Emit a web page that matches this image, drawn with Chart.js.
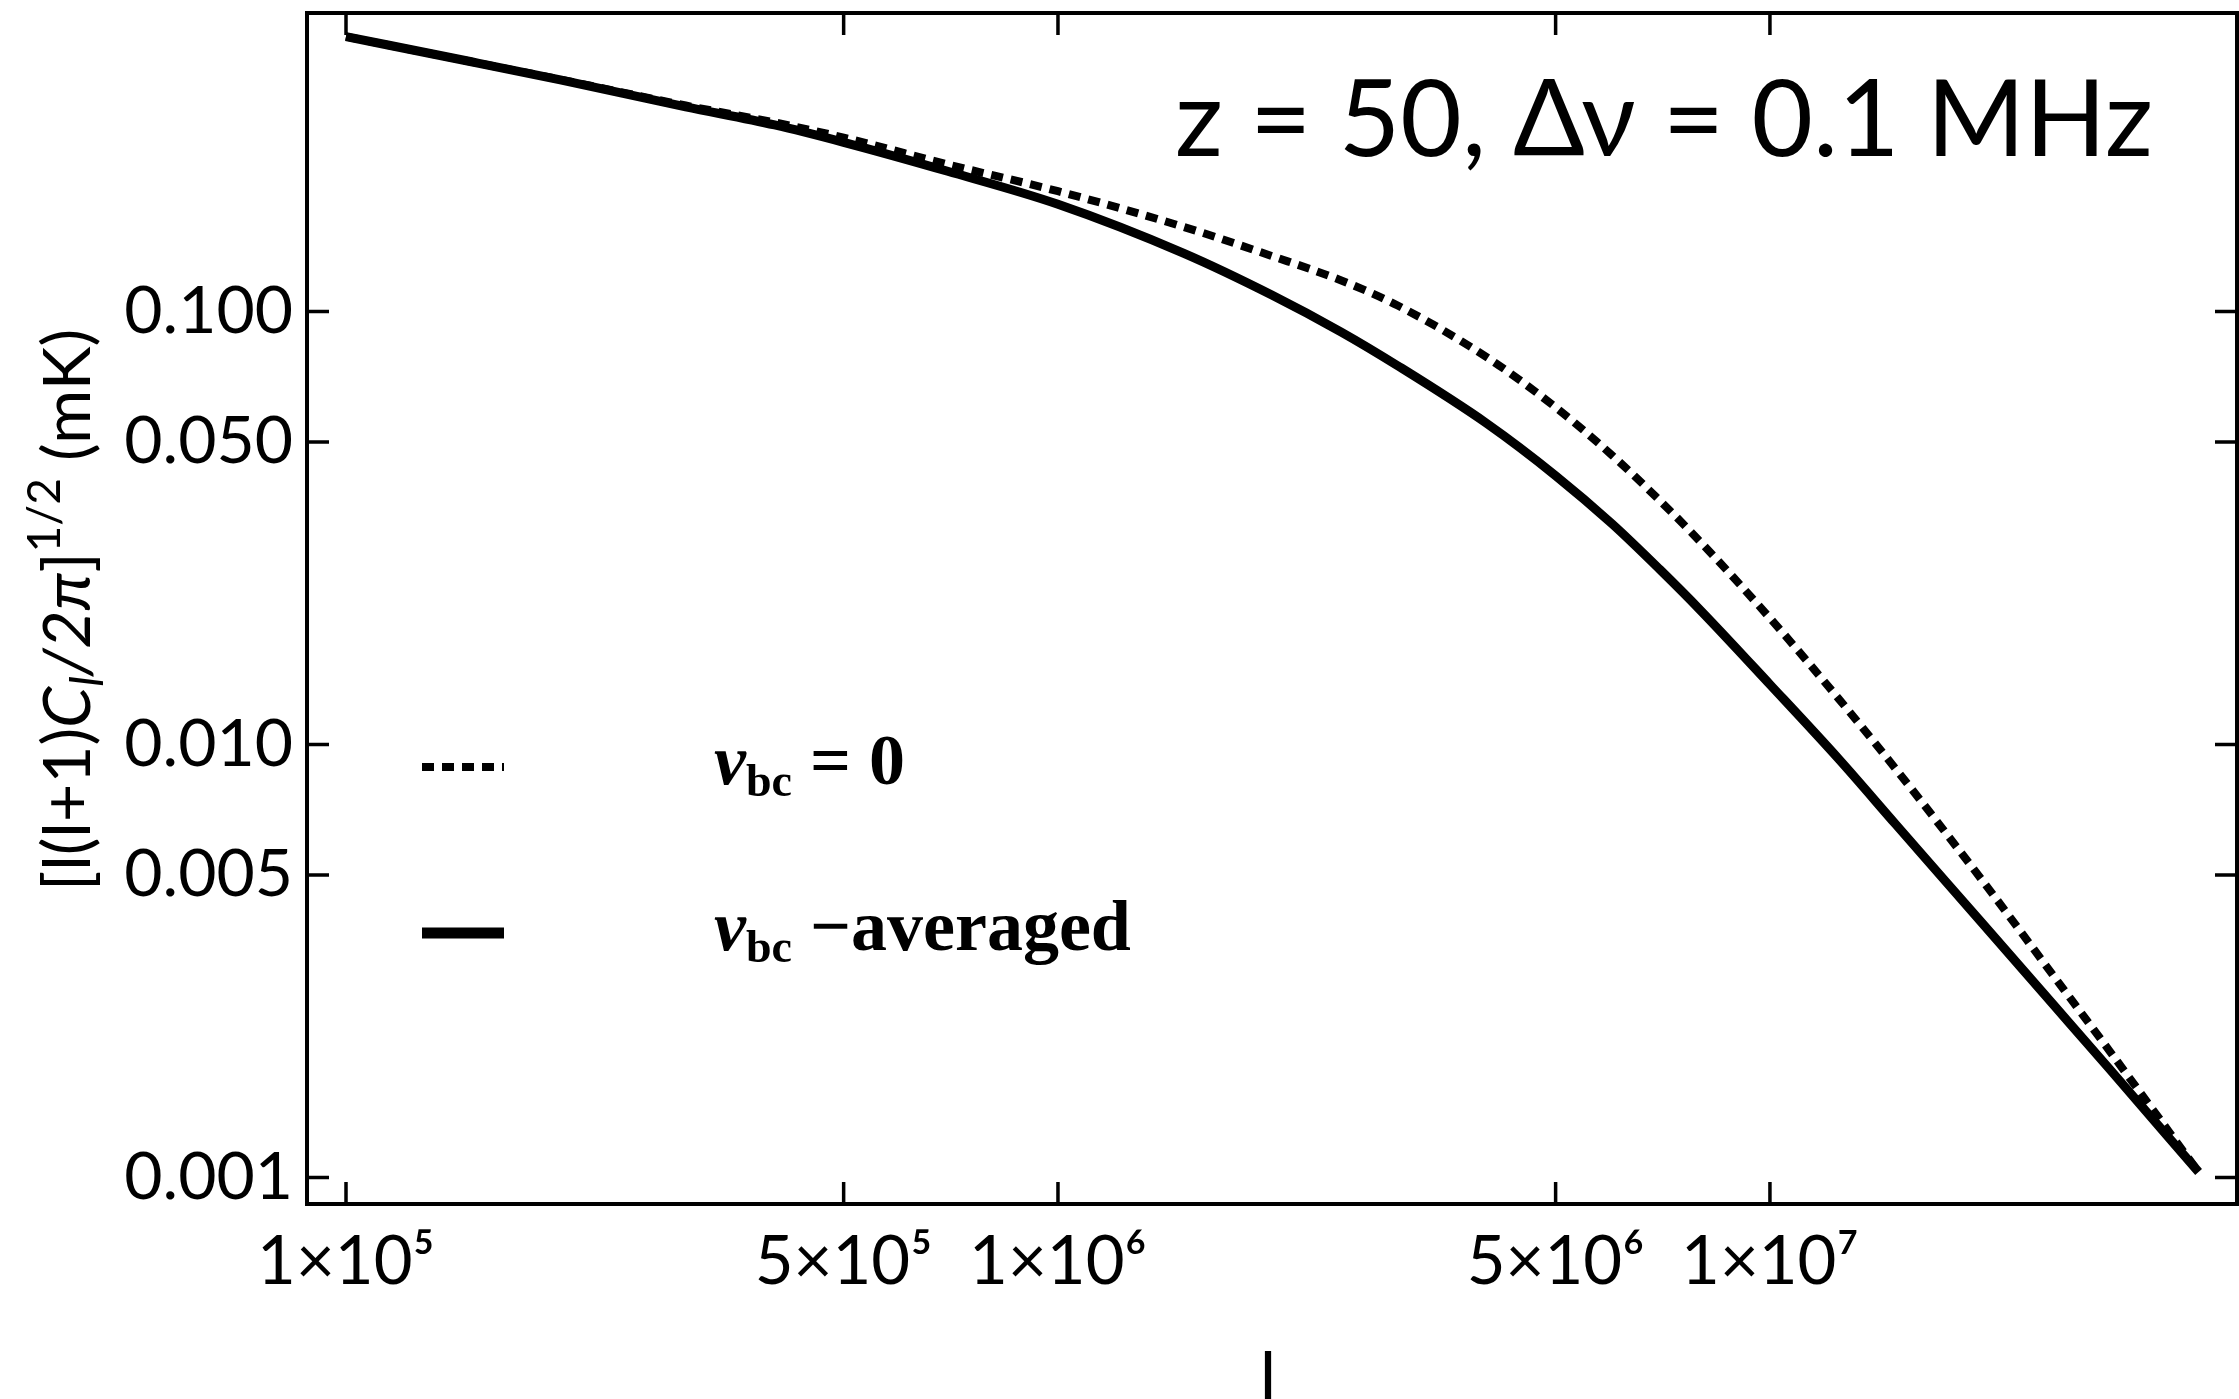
<!DOCTYPE html>
<html lang="en">
<head>
<meta charset="UTF-8">
<title>21-cm angular power spectrum, z = 50</title>
<script src="https://cdn.jsdelivr.net/npm/chart.js@4.4.0/dist/chart.umd.min.js"></script>
<style>
  html, body { margin: 0; padding: 0; background: #fff; }
  #wrap { width: 2239px; height: 1399px; }
</style>
</head>
<body>
<div id="wrap"><canvas id="chart" width="2239" height="1399"></canvas></div>
<script>
// multipole l
const ells = [1e5, 1.5e5, 2e5, 3e5, 4e5, 5e5, 7e5, 1e6, 1.5e6, 2e6, 2.5e6, 3e6, 4e6, 5e6,
              6e6, 7e6, 8e6, 1e7, 1.25e7, 1.5e7, 2e7, 2.5e7, 3e7, 4e7];
// [l(l+1)C_l/2pi]^(1/2) in mK
const vbcZero = [0.4315, 0.3776, 0.3436, 0.2992, 0.2735, 0.2523, 0.2188, 0.1897, 0.1570, 0.1343,
                 0.1180, 0.1033, 0.0785, 0.0601, 0.0466, 0.03664, 0.02931, 0.01959, 0.01274, 0.00881,
                 0.00479, 0.00293, 0.00196, 0.00103];
const vbcAveraged = [0.4315, 0.3776, 0.3428, 0.2972, 0.2698, 0.2460, 0.2109, 0.1770, 0.1365, 0.1091,
                     0.0897, 0.0750, 0.0552, 0.0418, 0.03236, 0.0254, 0.02037, 0.01377, 0.00925, 0.00656,
                     0.00382, 0.00251, 0.00178, 0.00103];

const xMajorTicks = [1e5, 5e5, 1e6, 5e6, 1e7];
const xTickLabels = ['1×10⁵', '5×10⁵', '1×10⁶', '5×10⁶', '1×10⁷'];
const xMinorTicks = [2e5, 3e5, 4e5, 6e5, 7e5, 8e5, 9e5, 2e6, 3e6, 4e6, 6e6, 7e6, 8e6, 9e6, 2e7, 3e7, 4e7];
const yMajorTicks = [0.001, 0.005, 0.01, 0.05, 0.1];
const yTickLabels = ['0.001', '0.005', '0.010', '0.050', '0.100'];
const yMinorTicks = [0.002, 0.003, 0.004, 0.006, 0.007, 0.008, 0.009, 0.02, 0.03, 0.04,
                     0.06, 0.07, 0.08, 0.09, 0.2, 0.3, 0.4];

const seriesNames = ['vbc = 0', 'vbc -averaged'];
const annotation = 'z = 50, Δν = 0.1 MHz';

const sans = 'Lato, "Noto Sans", sans-serif';
const serif = '"Liberation Serif", "DejaVu Serif", serif';

function tickList(major, minor) {
  return major.map(v => ({ value: v, major: true }))
    .concat(minor.map(v => ({ value: v, major: false })))
    .sort((a, b) => a.value - b.value);
}

// inward ticks on all four sides + the frame
const framePlugin = {
  id: 'frame',
  afterDatasetsDraw(chart) {
    const { ctx, chartArea: a, scales: { x, y } } = chart;
    ctx.save();
    ctx.strokeStyle = '#000';
    x.ticks.forEach(t => {
      const p = x.getPixelForValue(t.value);
      const len = t.major ? 22 : 7;
      ctx.lineWidth = t.major ? 3.5 : 2;
      ctx.beginPath();
      ctx.moveTo(p, a.bottom); ctx.lineTo(p, a.bottom - len);
      ctx.moveTo(p, a.top); ctx.lineTo(p, a.top + len);
      ctx.stroke();
    });
    y.ticks.forEach(t => {
      const p = y.getPixelForValue(t.value);
      const len = t.major ? 22 : 7;
      ctx.lineWidth = t.major ? 3.5 : 2;
      ctx.beginPath();
      ctx.moveTo(a.left, p); ctx.lineTo(a.left + len, p);
      ctx.moveTo(a.right, p); ctx.lineTo(a.right - len, p);
      ctx.stroke();
    });
    ctx.lineWidth = 4;
    ctx.strokeRect(a.left, a.top, a.right - a.left, a.bottom - a.top);
    ctx.restore();
  }
};

function drawParts(ctx, parts, x, y) {
  let cx = x;
  parts.forEach(p => {
    ctx.font = p.font;
    ctx.fillText(p.text, cx, y + (p.dy || 0));
    cx += ctx.measureText(p.text).width;
  });
  return cx;
}
function partsWidth(ctx, parts) {
  let w = 0;
  parts.forEach(p => { ctx.font = p.font; w += ctx.measureText(p.text).width; });
  return w;
}

const textPlugin = {
  id: 'texts',
  afterDraw(chart) {
    const ctx = chart.ctx;
    const ds = chart.data.datasets;
    ctx.save();
    ctx.fillStyle = '#000';
    ctx.textBaseline = 'alphabetic';
    ctx.textAlign = 'left';

    // annotation, top right
    ctx.font = '100px ' + sans;
    const s = 100 * 978 / ctx.measureText(annotation).width;
    ctx.font = s.toFixed(1) + 'px ' + sans;
    ctx.fillText(annotation, 1175, 156);

    // legend
    const legY = [767, 933];
    ds.forEach((d, i) => {
      ctx.strokeStyle = d.borderColor;
      ctx.lineWidth = i === 0 ? 8 : 11;
      ctx.setLineDash(d.borderDash || []);
      ctx.beginPath();
      ctx.moveTo(422, legY[i]);
      ctx.lineTo(504, legY[i]);
      ctx.stroke();
    });
    ctx.setLineDash([]);
    const big = 'bold 72px ' + serif;
    const vfont = 'italic bold 72px ' + serif;
    const sub = 'bold 46px ' + serif;
    drawParts(ctx, [
      { text: 'v', font: vfont }, { text: 'bc', font: sub, dy: 12 }, { text: ' = 0', font: big }
    ], 714, 784);
    drawParts(ctx, [
      { text: 'v', font: vfont }, { text: 'bc', font: sub, dy: 12 }, { text: ' −averaged', font: big }
    ], 714, 950);

    // y title, rotated
    const S = 66;
    const yParts = [
      { text: '[l(l+1)', font: S + 'px ' + sans },
      { text: 'C', font: 'italic ' + S + 'px ' + sans },
      { text: 'l', font: 'italic ' + (S * 0.7) + 'px ' + sans, dy: S * 0.2 },
      { text: '/2π', font: 'italic ' + S + 'px ' + sans },
      { text: ']', font: S + 'px ' + sans },
      { text: '1/2', font: (S * 0.7) + 'px ' + sans, dy: -S * 0.45 },
      { text: ' (mK)', font: S + 'px ' + sans }
    ];
    const w = partsWidth(ctx, yParts);
    ctx.save();
    ctx.translate(90, 610);
    ctx.rotate(-Math.PI / 2);
    drawParts(ctx, yParts, -w / 2, 0);
    ctx.restore();

    // x title (cut by the bottom edge)
    ctx.font = '70px ' + sans;
    ctx.textAlign = 'center';
    ctx.fillText('l', 1268, 1402);
    ctx.restore();
  }
};

new Chart(document.getElementById('chart'), {
  type: 'line',
  data: {
    datasets: [
      {
        label: seriesNames[0],
        data: ells.map((l, i) => ({ x: l, y: vbcZero[i] })),
        borderColor: '#000',
        borderWidth: 8,
        borderDash: [12, 8],
        borderCapStyle: 'butt',
        pointRadius: 0,
        fill: false,
        cubicInterpolationMode: 'monotone'
      },
      {
        label: seriesNames[1],
        data: ells.map((l, i) => ({ x: l, y: vbcAveraged[i] })),
        borderColor: '#000',
        borderWidth: 9,
        borderCapStyle: 'butt',
        borderJoinStyle: 'round',
        pointRadius: 0,
        fill: false,
        cubicInterpolationMode: 'monotone'
      }
    ]
  },
  options: {
    responsive: false,
    animation: false,
    devicePixelRatio: 1,
    layout: { padding: { top: 13, right: 2, left: 0, bottom: 0 } },
    plugins: { legend: { display: false }, tooltip: { enabled: false } },
    scales: {
      x: {
        type: 'logarithmic',
        position: 'bottom',
        min: 88150,
        max: 4.529e7,
        grid: { display: false, drawTicks: false },
        border: { display: false },
        afterFit(scale) {
          scale.height = 195;
          scale.paddingLeft = 0; scale.paddingRight = 0;
        },
        afterBuildTicks(scale) { scale.ticks = tickList(xMajorTicks, xMinorTicks); },
        ticks: {
          autoSkip: false,
          maxRotation: 0,
          minRotation: 0,
          padding: 18,
          color: '#000',
          font: { family: sans, size: 67 },
          callback(value) {
            const i = xMajorTicks.indexOf(value);
            return i >= 0 ? xTickLabels[i] : null;
          }
        }
      },
      y: {
        type: 'logarithmic',
        position: 'left',
        min: 0.000869,
        max: 0.4894,
        grid: { display: false, drawTicks: false },
        border: { display: false },
        afterFit(scale) {
          scale.width = 307;
          scale.paddingTop = 0; scale.paddingBottom = 0;
        },
        afterBuildTicks(scale) { scale.ticks = tickList(yMajorTicks, yMinorTicks); },
        ticks: {
          autoSkip: false,
          padding: 14,
          color: '#000',
          font: { family: sans, size: 66 },
          callback(value) {
            const i = yMajorTicks.indexOf(value);
            return i >= 0 ? yTickLabels[i] : null;
          }
        }
      }
    }
  },
  plugins: [framePlugin, textPlugin]
});
</script>
</body>
</html>
